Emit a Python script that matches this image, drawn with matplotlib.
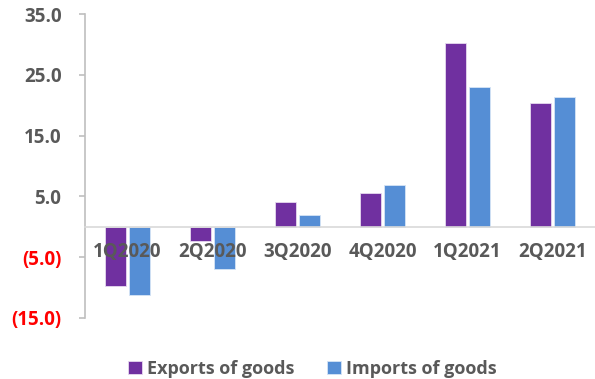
import matplotlib
matplotlib.use("Agg")
import matplotlib.pyplot as plt
import numpy as np

plt.rcParams['font.family'] = ['Open Sans', 'DejaVu Sans']
plt.rcParams['font.weight'] = 'bold'

quarters = ['1Q2020', '2Q2020', '3Q2020', '4Q2020', '1Q2021', '2Q2021']
exports = [-9.8, -2.4, 4.0, 5.6, 30.2, 20.3]
imports = [-11.2, -6.9, 2.0, 6.8, 23.0, 21.4]
yticks = [-15, -5, 5, 15, 25, 35]

purple = '#7030A0'
blue = '#558ED5'
grey_text = '#595959'

fig = plt.figure(figsize=(5.95, 3.79), dpi=100)
ax = fig.add_axes([0.143, 0.161, 0.857, 0.802])

x = np.arange(len(quarters))
w = 0.25
ax.bar(x - 0.14, exports, w, color=purple, edgecolor='#E6D9EF', linewidth=0.6, label='Exports of goods')
ax.bar(x + 0.14, imports, w, color=blue, edgecolor='#D6E4F5', linewidth=0.6, label='Imports of goods')

ax.set_xlim(-0.5, len(quarters) - 0.5)
ax.set_ylim(-15, 35)

# category axis sits on the zero line
ax.spines['bottom'].set_position(('data', 0))
ax.spines['bottom'].set_color('#D9D9D9')
ax.spines['bottom'].set_linewidth(1.2)
ax.spines['left'].set_color('#BFBFBF')
ax.spines['left'].set_linewidth(1.2)
ax.spines['top'].set_visible(False)
ax.spines['right'].set_visible(False)

ax.set_xticks(x)
ax.set_xticklabels(quarters, fontsize=13.5, color=grey_text)
ax.tick_params(axis='x', length=0, pad=11)

ax.set_yticks(yticks)
ylabels = ['({:.1f})'.format(-v) if v < 0 else '{:.1f}'.format(v) for v in yticks]
ax.set_yticklabels(ylabels, fontsize=13.5)
for lbl, v in zip(ax.get_yticklabels(), yticks):
    lbl.set_color('#FF0000' if v < 0 else grey_text)
ax.tick_params(axis='y', length=4, width=1.2, color='#BFBFBF', pad=13)

fig.legend(loc='lower center', bbox_to_anchor=(0.525, -0.04), ncol=2, frameon=False,
           fontsize=13, handlelength=0.75, handleheight=0.75, handletextpad=0.3,
           columnspacing=1.8, labelcolor=grey_text)

fig.savefig('out.png', dpi=100)
